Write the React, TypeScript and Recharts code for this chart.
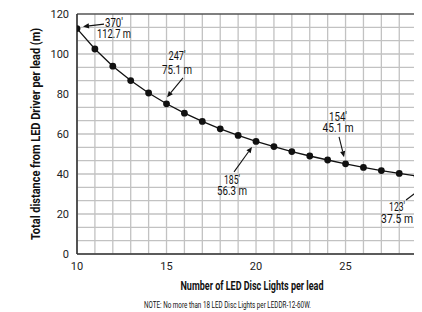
import React from "react";
import { LineChart, Line, XAxis, YAxis, ReferenceLine, ReferenceDot } from "recharts";

const lights = [10, 11, 12, 13, 14, 15, 16, 17, 18, 19, 20, 21, 22, 23, 24, 25, 26, 27, 28, 29, 30];
const distance = [112.7, 102.5, 93.9, 86.7, 80.5, 75.1, 70.4, 66.3, 62.6, 59.3, 56.3, 53.7, 51.2, 49.0, 47.0, 45.1, 43.3, 41.7, 40.3, 38.9, 37.5];
const xTicks = [10, 15, 20, 25];
const yTicks = [0, 20, 40, 60, 80, 100, 120];
const annoLights = [10, 15, 20, 25, 30];
const annoMeters = [112.7, 75.1, 56.3, 45.1, 37.5];
const annoFeet = ["370′", "247′", "185′", "154′", "123′"];
const annoMeterText = ["112.7 m", "75.1 m", "56.3 m", "45.1 m", "37.5 m"];

// pixel offsets / widths (style) of label/arrow relative to the annotated point
const annoStyle = [
  { tx: 37, ty1: -1.5, ty2: 9, w1: 18, w2: 34, ax1: 27, ay1: -4.5, ax2: 6, ay2: -2 },
  { tx: 10.5, ty1: -44, ty2: -30, w1: 17, w2: 30, ax1: 16.5, ay1: -26, ax2: 0.5, ay2: -6.5 },
  { tx: -24, ty1: 42.5, ty2: 54, w1: 16, w2: 30, ax1: -22, ay1: 30.5, ax2: -4, ay2: 5.5 },
  { tx: -7.5, ty1: -43, ty2: -31.5, w1: 18, w2: 31, ax1: -6.5, ay1: -27, ax2: -1.5, ay2: -6.5 },
  { tx: -38, ty1: 32, ty2: 44, w1: 16, w2: 32, ax1: -29, ay1: 21, ax2: -8, ay2: 5 },
];

const data = lights.map((n, i) => ({ n, d: distance[i] }));
const gridX = Array.from({ length: 20 }, (_, i) => 10 + i);
const gridY = Array.from({ length: 18 }, (_, i) => (i * 20) / 3);

const FONT = "'Liberation Sans Narrow', 'Roboto', 'Liberation Sans', sans-serif";

function makeAnno(i: number) {
  const s = annoStyle[i];
  return (props: any) => {
    const { cx, cy } = props;
    const x1 = cx + s.ax1, y1 = cy + s.ay1, x2 = cx + s.ax2, y2 = cy + s.ay2;
    const ang = Math.atan2(y2 - y1, x2 - x1);
    const L = 6, Wd = 2.6;
    const bx = x2 - L * Math.cos(ang), by = y2 - L * Math.sin(ang);
    const p1 = `${x2},${y2}`;
    const p2 = `${bx + Wd * Math.sin(ang)},${by - Wd * Math.cos(ang)}`;
    const p3 = `${bx - Wd * Math.sin(ang)},${by + Wd * Math.cos(ang)}`;
    return (
      <g>
        <line x1={x1} y1={y1} x2={bx} y2={by} stroke="#111" strokeWidth={1.1} />
        <polygon points={`${p1} ${p2} ${p3}`} fill="#111" />
        <text x={cx + s.tx} y={cy + s.ty1} textAnchor="middle" fontSize={12} fontFamily={FONT} fill="#111" textLength={s.w1} lengthAdjust="spacingAndGlyphs">{annoFeet[i]}</text>
        <text x={cx + s.tx} y={cy + s.ty2} textAnchor="middle" fontSize={12} fontFamily={FONT} fill="#111" textLength={s.w2} lengthAdjust="spacingAndGlyphs">{annoMeterText[i]}</text>
      </g>
    );
  };
}

export default function App() {
  return (
    <div style={{ position: "relative", width: 414, height: 304 }}>
      <LineChart width={414} height={304} data={data} margin={{ top: 6, right: 0, left: 0, bottom: 0 }}>
        {gridX.map((v) => (
          <ReferenceLine key={"gx" + v} x={v} stroke="#c2c2c2" strokeWidth={1.3} />
        ))}
        {gridY.map((v, i) => (
          <ReferenceLine key={"gy" + i} y={v} stroke="#c2c2c2" strokeWidth={1.3} />
        ))}
        <XAxis
          dataKey="n"
          type="number"
          domain={[10, 29.27]}
          allowDataOverflow
          ticks={xTicks}
          tickLine={false}
          height={58}
          axisLine={{ stroke: "#333", strokeWidth: 1.6 }}
          tick={{ fontSize: 11, fill: "#222", fontFamily: FONT }}
        />
        <YAxis
          type="number"
          domain={[0, 120]}
          ticks={yTicks}
          tickLine={false}
          width={69}
          axisLine={{ stroke: "#333", strokeWidth: 1.6 }}
          tick={{ fontSize: 11, fill: "#222", fontFamily: FONT }}
        />
        <ReferenceLine y={120} stroke="#555" strokeWidth={1.5} />
        <Line
          dataKey="d"
          stroke="#111"
          strokeWidth={1.3}
          dot={{ r: 3.4, fill: "#111", stroke: "#111", strokeWidth: 0 }}
          isAnimationActive={false}
        />
        {annoLights.map((n, i) => (
          <ReferenceDot key={i} x={n} y={annoMeters[i]} r={0} ifOverflow="visible" shape={makeAnno(i)} />
        ))}
      </LineChart>
      <svg width={414} height={304} style={{ position: "absolute", left: 0, top: 0, pointerEvents: "none" }}>
        <text x={27} y={126} transform="rotate(-90 27 126)" textAnchor="middle" dominantBaseline="central" fontSize={12.5} fontWeight="bold" fontFamily={FONT} fill="#111" textLength={212} lengthAdjust="spacingAndGlyphs">
          Total distance from LED Driver per lead (m)
        </text>
        <text x={244} y={282} textAnchor="middle" fontSize={12.5} fontWeight="bold" fontFamily={FONT} fill="#111" textLength={143} lengthAdjust="spacingAndGlyphs">
          Number of LED Disc Lights per lead
        </text>
        <text x={219.5} y={300} textAnchor="middle" fontSize={9.5} fontFamily={FONT} fill="#111" textLength={167} lengthAdjust="spacingAndGlyphs">
          NOTE: No more than 18 LED Disc Lights per LEDDR-12-60W.
        </text>
      </svg>
    </div>
  );
}
